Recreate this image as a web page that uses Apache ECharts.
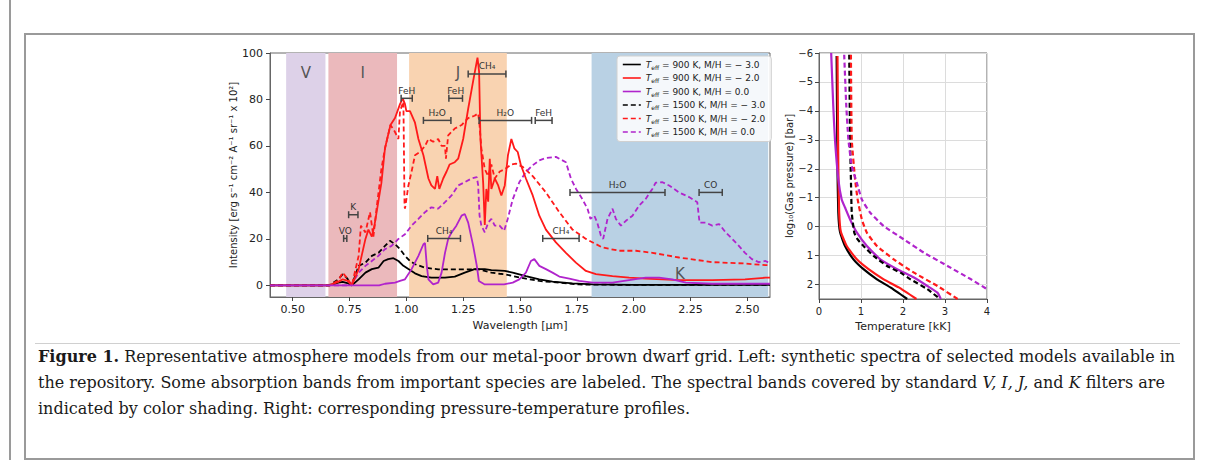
<!DOCTYPE html>
<html><head><meta charset="utf-8">
<script src="https://cdn.jsdelivr.net/npm/echarts@6/dist/echarts.min.js"></script>
<style>
html,body{margin:0;padding:0;background:#fff;width:1206px;height:468px;overflow:hidden;}
#outer{position:absolute;left:9px;top:0;width:2px;height:460px;background:#9a9a9a;}
#box{position:absolute;left:24px;top:33px;width:1167px;height:423px;border:2px solid #9a9a9a;}
#sep{position:absolute;left:35px;top:343px;width:1145px;height:1px;background:#d0d0d0;}
#cap{position:absolute;left:38px;top:344px;font-family:'DejaVu Serif',serif;font-size:16px;line-height:26px;color:#1a1a1a;white-space:nowrap;}
#chart{position:absolute;left:0;top:0;width:1206px;height:468px;}
</style></head>
<body>
<div id="outer"></div>
<div id="box"></div>
<div id="sep"></div>
<div id="cap"><b>Figure 1.</b> Representative atmosphere models from our metal-poor brown dwarf grid. Left: synthetic spectra of selected models available in<br>the repository. Some absorption bands from important species are labeled. The spectral bands covered by standard <i>V, I, J,</i> and <i>K</i> filters are<br>indicated by color shading. Right: corresponding pressure-temperature profiles.</div>
<div id="chart"></div>
<script>
// ---------- DATA ----------
const seriesNames = [
  'Teff = 900 K, M/H = − 3.0',
  'Teff = 900 K, M/H = − 2.0',
  'Teff = 900 K, M/H = 0.0',
  'Teff = 1500 K, M/H = − 3.0',
  'Teff = 1500 K, M/H = − 2.0',
  'Teff = 1500 K, M/H = 0.0'
];
// spectra: [wavelength (um), intensity]
const spec900m30 = [[0.40,0],[0.66,0],[0.70,1.2],[0.72,1.5],[0.74,1.0],[0.76,0],[0.79,2.6],[0.82,5.5],[0.848,7],[0.877,7.6],[0.9,10.5],[0.92,11.3],[0.943,11.7],[0.965,10.5],[0.987,8.4],[1.009,7],[1.038,5.2],[1.067,4],[1.11,3.3],[1.17,3.3],[1.213,3.8],[1.257,5.5],[1.30,7],[1.345,7],[1.374,6.6],[1.433,6.2],[1.468,5.5],[1.526,4],[1.585,2.6],[1.643,1.6],[1.731,0.9],[1.82,0.4],[2.0,0.2],[2.6,0.2]];
const spec900m20 = [[0.40,0],[0.66,0],[0.70,1.5],[0.72,2.6],[0.74,2.0],[0.76,0],[0.79,7],[0.82,20],[0.833,24],[0.848,21],[0.86,26],[0.89,44],[0.906,59],[0.93,69],[0.95,72],[0.972,78],[0.984,80.5],[0.994,78],[1.0,75],[1.016,75],[1.038,70],[1.053,63],[1.075,56],[1.097,46],[1.11,43],[1.126,41.5],[1.136,47],[1.145,41.5],[1.162,46],[1.177,49],[1.19,52],[1.213,53],[1.228,54.5],[1.25,63],[1.272,76],[1.294,88],[1.313,98],[1.32,92],[1.326,63],[1.338,44],[1.345,26],[1.352,41.5],[1.36,36],[1.367,54.5],[1.374,41.5],[1.389,46],[1.404,43],[1.418,38.7],[1.433,43],[1.447,56],[1.462,63],[1.475,59],[1.49,57.4],[1.504,51.7],[1.526,46],[1.556,38.7],[1.585,30],[1.614,24],[1.658,18.5],[1.702,14],[1.746,9.8],[1.79,6.2],[1.834,4.8],[1.907,4],[1.98,3.3],[2.053,2.9],[2.2,2.3],[2.346,2.3],[2.49,2.6],[2.58,3.3],[2.6,3.3]];
const spec900p00 = [[0.40,0],[0.88,0],[0.906,0.7],[0.95,1.2],[0.972,1.9],[0.994,2.6],[1.023,7],[1.053,12.7],[1.075,17.7],[1.082,18.2],[1.09,8.4],[1.097,2.6],[1.118,0.4],[1.14,1.2],[1.155,5.5],[1.17,14],[1.184,20],[1.199,22.8],[1.22,25.7],[1.243,30],[1.257,30.7],[1.272,27],[1.294,17],[1.31,8.4],[1.319,1.9],[1.345,0.4],[1.43,0.4],[1.468,1.2],[1.497,2.6],[1.526,5.5],[1.548,10.5],[1.563,11.3],[1.585,8.4],[1.614,7],[1.643,5.5],[1.673,3.8],[1.717,2.9],[1.76,1.9],[1.82,1.2],[1.907,1.2],[1.98,2.3],[2.053,3.3],[2.112,3.3],[2.17,2.6],[2.23,1.2],[2.346,0.7],[2.6,0.7]];
const spec1500m30 = [[0.40,0],[0.66,0],[0.70,2.5],[0.72,4.8],[0.74,3],[0.76,0],[0.79,8.4],[0.82,9.8],[0.848,12.7],[0.877,14],[0.906,17],[0.928,19.2],[0.95,17.7],[0.972,15.6],[0.994,12.7],[1.016,10.5],[1.038,9.1],[1.082,7.6],[1.14,6.9],[1.257,6.9],[1.316,6.9],[1.374,5.5],[1.41,5],[1.433,4.8],[1.468,4],[1.526,2.9],[1.585,1.9],[1.673,1.2],[1.76,0.4],[2.0,0.2],[2.6,0.2]];
const spec1500m20 = [[0.40,0],[0.66,0],[0.70,2],[0.72,5.5],[0.74,3],[0.76,0],[0.79,12.7],[0.80,25.7],[0.82,22.8],[0.84,31.5],[0.855,21],[0.87,34],[0.89,50],[0.906,59],[0.93,69],[0.95,66],[0.965,63],[0.972,75],[0.987,79],[0.992,34],[0.994,33],[1.009,43],[1.023,49],[1.038,56],[1.06,57.4],[1.082,60],[1.097,63],[1.118,61.8],[1.14,63],[1.155,60],[1.17,60],[1.174,54.5],[1.184,64.6],[1.213,67.5],[1.243,69],[1.272,72],[1.30,73],[1.316,74],[1.322,69],[1.33,59],[1.345,50],[1.36,47],[1.374,52],[1.389,46],[1.411,49],[1.433,50],[1.462,52],[1.482,52.4],[1.512,51],[1.556,47],[1.614,40],[1.673,31.5],[1.731,24],[1.79,20],[1.863,16.3],[1.936,14.9],[2.01,14.9],[2.083,14],[2.2,12],[2.346,10],[2.49,9.4],[2.58,8.7],[2.6,8.7]];
const spec1500p00 = [[0.40,0],[0.74,0],[0.76,0.4],[0.79,5.5],[0.82,8.4],[0.848,10.5],[0.877,12.7],[0.906,15.6],[0.935,17],[0.965,20],[0.994,22],[1.023,25.7],[1.053,28.6],[1.082,31.5],[1.11,33.6],[1.14,33],[1.17,35.8],[1.199,38.7],[1.228,43],[1.257,44.4],[1.287,46],[1.31,46.6],[1.316,43],[1.322,30],[1.33,25.7],[1.345,22.8],[1.36,27],[1.374,28.6],[1.389,25.7],[1.41,25.7],[1.43,23.5],[1.446,28.6],[1.468,37],[1.497,44.4],[1.526,48.8],[1.556,51.7],[1.585,53.8],[1.614,54.8],[1.658,55.3],[1.702,53],[1.724,46],[1.746,41.6],[1.775,37],[1.797,33],[1.81,28.6],[1.827,30],[1.84,27],[1.856,21.4],[1.866,20],[1.885,28.6],[1.907,33],[1.922,28.6],[1.944,25.7],[1.966,27.8],[1.995,30],[2.024,34.3],[2.053,37.2],[2.083,41.6],[2.097,44.2],[2.127,44.4],[2.156,43],[2.2,40],[2.244,38],[2.28,35.8],[2.29,27],[2.317,27],[2.346,25.7],[2.376,26.4],[2.405,22.8],[2.434,20],[2.463,17],[2.49,14],[2.52,11.3],[2.55,10],[2.58,10.5],[2.6,9.5]];

// P-T profiles: [temperature (kK), log10 P (bar)]
const pt900m30 = [[0.42,-5.9],[0.44,-2.0],[0.46,-0.48],[0.50,0.18],[0.62,0.67],[0.82,1.13],[1.06,1.47],[1.38,1.82],[1.7,2.1],[2.1,2.5]];
const pt900m20 = [[0.44,-5.9],[0.46,-2.0],[0.48,-0.48],[0.52,0.18],[0.66,0.67],[0.9,1.13],[1.18,1.47],[1.54,1.82],[1.9,2.1],[2.32,2.5]];
const pt900p00 = [[0.29,-6.0],[0.34,-4.16],[0.38,-3.01],[0.46,-1.63],[0.54,-0.94],[0.62,-0.66],[0.74,-0.25],[0.9,0.2],[1.14,0.67],[1.46,1.13],[1.86,1.47],[2.26,1.76],[2.58,2.05],[2.82,2.28],[2.9,2.5]];
const pt1500m30 = [[0.72,-5.94],[0.74,-3.01],[0.76,-1.63],[0.78,-0.48],[0.84,0.21],[0.92,0.44],[1.06,0.67],[1.3,1.01],[1.62,1.36],[1.94,1.59],[2.18,1.82],[2.58,2.16],[2.88,2.5]];
const pt1500m20 = [[0.76,-5.94],[0.78,-3.01],[0.86,-1.63],[0.92,-0.94],[1.02,-0.25],[1.14,0.21],[1.38,0.67],[1.78,1.13],[2.26,1.59],[2.82,2.05],[3.3,2.5]];
const pt1500p00 = [[0.6,-5.94],[0.65,-4.16],[0.7,-3.01],[0.78,-2.09],[0.9,-1.52],[1.02,-0.94],[1.22,-0.48],[1.54,-0.02],[2.02,0.44],[2.5,0.9],[3.06,1.36],[3.62,1.82],[4.0,2.16]];

// filter bands
const bandNames = ['V','I','J','K'];
const bandStart = [0.471,0.657,1.012,1.815];
const bandEnd   = [0.644,0.959,1.442,2.592];

// absorption annotations
const annoLabels = ['CH₄','FeH','FeH','H₂O','H₂O','FeH','H₂O','CO','CH₄','CH₄','K','VO'];
const annoStart  = [1.272,0.977,1.187,1.075,1.32,1.567,1.72,2.288,1.6,1.094,0.746,0.724];
const annoEnd    = [1.438,1.026,1.247,1.196,1.551,1.641,2.138,2.39,1.76,1.238,0.787,0.738];
const annoLevel  = [91,80.5,80.5,71,71,71,40,40,20.2,20.2,30.4,20.2];

// ticks
const specXTicks = [0.5,0.75,1.0,1.25,1.5,1.75,2.0,2.25,2.5];
const specYTicks = [0,20,40,60,80,100];
const ptXTicks = [0,1,2,3,4];
const ptYTicks = [-6,-5,-4,-3,-2,-1,0,1,2];

// ---------- CHART ----------
const FONT = 'DejaVu Sans';
const colK = '#000000', colR = '#ff1a1a', colM = '#b024cc';
const bandColors = ['#ddd1e8','#ebb9bc','#f9d3b1','#b9d1e4'];
const specData = [spec900m30, spec900m20, spec900p00, spec1500m30, spec1500m20, spec1500p00];
const ptData = [pt900m30, pt900m20, pt900p00, pt1500m30, pt1500m20, pt1500p00];
const cols = [colK, colR, colM, colK, colR, colM];
const dashes = ['solid','solid','solid',[5,3],[5,3],[5,3]];
const minus = s => String(s).replace('-', '−');

const chart = echarts.init(document.getElementById('chart'), null, {renderer: 'svg'});

const series = [];
// band shading
series.push({
  type: 'line', xAxisIndex: 0, yAxisIndex: 0, data: [], silent: true,
  markArea: {
    silent: true,
    label: {show: true, position: 'insideTop', distance: 12, fontSize: 15, color: '#555', fontFamily: FONT},
    data: bandNames.map((n, i) => [
      {name: n, xAxis: bandStart[i], itemStyle: {color: bandColors[i]},
       label: n === 'K' ? {position: 'insideBottom', distance: 16} : {}},
      {xAxis: bandEnd[i]}
    ])
  }
});
specData.forEach((d, i) => {
  series.push({
    name: seriesNames[i], type: 'line', xAxisIndex: 0, yAxisIndex: 0, data: d,
    symbol: 'none', showSymbol: false, z: 3 + (i < 3 ? 1 : 0),
    lineStyle: {color: cols[i], width: 1.8, type: dashes[i]},
    itemStyle: {color: cols[i]}
  });
});
// annotations
series.push({
  type: 'custom', xAxisIndex: 0, yAxisIndex: 0, z: 6, silent: true,
  encode: {x: [0, 1], y: 2},
  data: annoLabels.map((l, i) => [annoStart[i], annoEnd[i], annoLevel[i]]),
  renderItem: (params, api) => {
    const p0 = api.coord([api.value(0), api.value(2)]);
    const p1 = api.coord([api.value(1), api.value(2)]);
    const st = {stroke: '#444', lineWidth: 1.5};
    return {type: 'group', children: [
      {type: 'line', shape: {x1: p0[0], y1: p0[1], x2: p1[0], y2: p1[1]}, style: st},
      {type: 'line', shape: {x1: p0[0], y1: p0[1]-3.5, x2: p0[0], y2: p0[1]+3.5}, style: st},
      {type: 'line', shape: {x1: p1[0], y1: p1[1]-3.5, x2: p1[0], y2: p1[1]+3.5}, style: st},
      {type: 'text', x: (p0[0]+p1[0])/2, y: p0[1]-3,
       style: {text: annoLabels[params.dataIndex], textAlign: 'center', textVerticalAlign: 'bottom',
               fontSize: 9, fill: '#333', fontFamily: FONT}}
    ]};
  }
});
ptData.forEach((d, i) => {
  series.push({
    name: 'pt' + i, type: 'line', xAxisIndex: 1, yAxisIndex: 1, data: d,
    symbol: 'none', showSymbol: false, smooth: 0.15,
    lineStyle: {color: cols[i], width: 2.2, type: dashes[i]}
  });
});

const axisLbl = {fontSize: 11, color: '#222', fontFamily: FONT};
chart.setOption({
  animation: false,
  grid: [
    {left: 270, right: 436, top: 53, bottom: 171, show: true, borderColor: '#666', borderWidth: 1, backgroundColor: 'transparent'},
    {left: 819, right: 219, top: 53, bottom: 169, show: true, borderColor: '#666', borderWidth: 1, backgroundColor: 'transparent'}
  ],
  legend: {
    data: seriesNames, orient: 'vertical', left: 617, top: 56,
    itemWidth: 18, itemHeight: 10, itemGap: 3.5, padding: [4, 6, 4, 5],
    backgroundColor: 'rgba(255,255,255,0.85)', borderColor: '#d0d0d0', borderWidth: 1, borderRadius: 3,
    itemStyle: {opacity: 0}, lineStyle: {width: 1.6},
    selectedMode: false,
    formatter: n => '{i|T}{s|eff}{n|' + n.slice(4) + '}',
    textStyle: {fontSize: 9, color: '#222', fontFamily: FONT,
      rich: {i: {fontStyle: 'italic', fontSize: 9, fontFamily: FONT},
             s: {fontSize: 6, fontFamily: FONT, verticalAlign: 'bottom', padding: [5, 0, 0, 0]},
             n: {fontSize: 9, fontFamily: FONT}}}
  },
  xAxis: [
    {type: 'value', gridIndex: 0, min: 0.4, max: 2.6,
     axisLine: {show: true, onZero: false, lineStyle: {color: '#666'}},
     axisTick: {show: true, length: 4, customValues: specXTicks, lineStyle: {color: '#444'}},
     axisLabel: Object.assign({customValues: specXTicks, margin: 7, formatter: v => v.toFixed(2)}, axisLbl),
     splitLine: {show: false},
     name: 'Wavelength [μm]', nameLocation: 'middle', nameGap: 20, nameTextStyle: axisLbl},
    {type: 'value', gridIndex: 1, min: 0, max: 4, interval: 1,
     axisLine: {show: true, onZero: false, lineStyle: {color: '#666'}},
     axisTick: {show: true, length: 4, lineStyle: {color: '#444'}},
     axisLabel: Object.assign({margin: 7}, axisLbl, {fontSize: 10}),
     splitLine: {show: true, lineStyle: {color: '#dcdcdc', width: 1}},
     name: 'Temperature [kK]', nameLocation: 'middle', nameGap: 20, nameTextStyle: axisLbl}
  ],
  yAxis: [
    {type: 'value', gridIndex: 0, min: -5, max: 100,
     axisLine: {show: true, onZero: false, lineStyle: {color: '#666'}},
     axisTick: {show: true, length: 4, customValues: specYTicks, lineStyle: {color: '#444'}},
     axisLabel: Object.assign({customValues: specYTicks, margin: 7}, axisLbl),
     splitLine: {show: false},
     name: 'Intensity [erg s⁻¹ cm⁻² A⁻¹ sr⁻¹ x 10²]', nameLocation: 'middle', nameGap: 29,
     nameTextStyle: Object.assign({}, axisLbl, {fontSize: 10})},
    {type: 'value', gridIndex: 1, min: -6, max: 2.5, interval: 1, inverse: true,
     axisLine: {show: true, onZero: false, lineStyle: {color: '#666'}},
     axisTick: {show: true, length: 4, customValues: ptYTicks, lineStyle: {color: '#444'}},
     axisLabel: Object.assign({customValues: ptYTicks, margin: 6, formatter: v => minus(v)}, axisLbl, {fontSize: 10}),
     splitLine: {show: true, lineStyle: {color: '#dcdcdc', width: 1}},
     name: 'log₁₀(Gas pressure) [bar]', nameLocation: 'middle', nameGap: 17,
     nameTextStyle: Object.assign({}, axisLbl, {fontSize: 10})}
  ],
  series: series
});
</script>
</body></html>
